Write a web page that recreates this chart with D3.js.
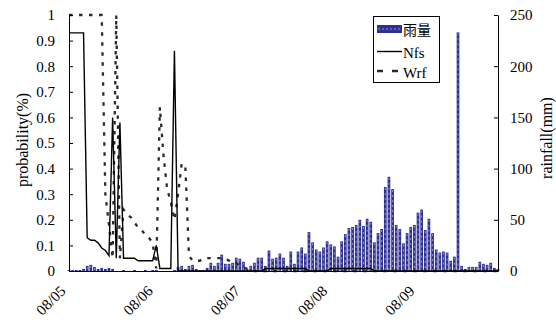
<!DOCTYPE html>
<html><head><meta charset="utf-8">
<script src="https://cdn.jsdelivr.net/npm/d3@7"></script>
<style>body{margin:0;background:#fff}</style>
</head><body><svg id="c" width="556" height="325"></svg>
<script>
// hourly index 0..118 starting 08/05 00:00
const hours = d3.range(119);
const dateLabels = ["08/05", "08/06", "08/07", "08/08", "08/09"];
const dateTickIdx = [0, 24, 48, 72, 96];
const probTicks = [0, 0.1, 0.2, 0.3, 0.4, 0.5, 0.6, 0.7, 0.8, 0.9, 1];
const rainTicks = [0, 50, 100, 150, 200, 250];

const rainfall = [
  1,1,1,1,2,5,6,4,2,3,2,3,2,
  0,0,1,0,0,1,0,0,1,0,1,1,0,0,0,0,
  1,4,5,2,5,
  6,2,1,1,3,8,5,8,16,7,7,8,13,12,9,2,5,8,13,13,5,20,12,13,17,13,5,19,7,19,23,17,38,28,21,19,23,29,26,
  24,14,29,36,42,43,45,50,44,51,48,28,37,41,82,92,80,45,41,27,37,43,45,57,60,40,51,37,21,18,19,18,10,14,
  233,
  5,2,4,4,4,9,7,6,8,3,2
];
const nfs = [
  0.93,0.93,0.93,0.93,0.93,
  0.13,0.12,0.12,0.11,0.09,0.08,0.06,0.6,0.05,0.58,0.05,0.05,0.05,0.05,0.04,0.04,0.04,0.04,0.04,0.1,0.01,0.01,0.01,0.01,0.86,0,
  0,0,0,0,0,0,0,0,0,0,0,0,0,0,0,0,0,0,0,0,0,0,0,
  0.01,0.01,0.01,0.01,0.01,0.01,0.01,0.01,0.01,0.01,0.01,0.01,
  0,0,0,0,0,0,
  0.01,0.01,0.01,0.01,0.01,0.01,0.01,0.01,0.01,0.01,0.01,0.01,
  0,0,0,0,0,0,0,0,0,0,0,0,0,0,0,0,0,0,0,0,0,0,0,0,0,0,0,0,0,0,0,0,0,0,0
];
const wrf = [
  1,1,1,1,1,1,1,1,1,1,
  0.3,0.18,0.05,1,0.05,0.24,0.22,0.21,0.19,0.17,0.16,0.14,0.13,0.11,0.01,0.64,0.45,0.32,0.27,0.2,0.3,0.42,0.41,0.06,0.04,0.04,0.04,
  0.05,0.05,0.05,0.05,0.05,0.05,0.05,
  0.04,0.03,0.03,0.02,0.01,0.01,0.01,
  0,0,0,0,0,0,0,0,0,0,0,0,0,0,0,0,0,0,0,0,0,0,0,0,0,0,0,0,0,0,0,0,0,0,
  0,0,0,0,0,0,0,0,0,0,0,0,0,0,0,0,0,0,0,0,0,0,0,0,0,0,0,0,0,0,0,0,0,0
];

const svg = d3.select("#c");
const L = 69, R = 498, T = 15, B = 271;
const x = d3.scaleLinear().domain([0, 118]).range([L, R]);
const yP = d3.scaleLinear().domain([0, 1]).range([B, T]);
const yR = d3.scaleLinear().domain([0, 250]).range([B, T]);
const serif = "'Liberation Serif','Times New Roman',serif";

// bars
const bw = 2.7;
const bars = svg.append("g");
bars.selectAll("rect").data(hours).join("rect")
  .attr("x", i => x(i) - bw / 2).attr("width", bw)
  .attr("y", i => yR(rainfall[i])).attr("height", i => B - yR(rainfall[i]))
  .attr("fill", "#2f3190");
bars.selectAll("line").data(hours.filter(i => rainfall[i] > 3)).join("line")
  .attr("x1", i => x(i)).attr("x2", i => x(i))
  .attr("y1", i => yR(rainfall[i]) + 1).attr("y2", B)
  .attr("stroke", "#a9a9de").attr("stroke-width", 0.8).attr("stroke-dasharray", "2,3");

// lines
const line = d3.line().x((d, i) => x(i)).y(d => yP(d));
svg.append("path").datum(wrf).attr("d", line)
  .attr("fill", "none").attr("stroke", "#2a2a2a").attr("stroke-width", 2.3)
  .attr("stroke-dasharray", "3.5,6.5");
svg.append("path").datum(nfs).attr("d", line)
  .attr("fill", "none").attr("stroke", "#000").attr("stroke-width", 1.4);

// axes
const axL = svg.append("g").attr("transform", `translate(${L},0)`)
  .call(d3.axisLeft(yP).tickValues(probTicks).tickFormat(d => String(+d.toFixed(1)))
    .tickSizeInner(-4).tickSizeOuter(0).tickPadding(14));
const axR = svg.append("g").attr("transform", `translate(${R},0)`)
  .call(d3.axisRight(yR).tickValues(rainTicks)
    .tickSizeInner(-4).tickSizeOuter(0).tickPadding(12));
const axB = svg.append("g").attr("transform", `translate(0,${B})`)
  .call(d3.axisBottom(x).tickValues(dateTickIdx).tickFormat((d, i) => dateLabels[i])
    .tickSizeInner(0).tickSizeOuter(0));
axB.selectAll("text").attr("x", 0).attr("y", 0).attr("dy", 0)
  .attr("text-anchor", "end").attr("transform", "translate(-3,21) rotate(-45)");
[axL, axR, axB].forEach(a => {
  a.selectAll("path,line").attr("stroke", "#000");
  a.selectAll("text").attr("font-family", serif).attr("font-size", 15).attr("fill", "#000");
});

// titles
svg.append("text").attr("transform", "translate(22,140) rotate(-90)")
  .attr("text-anchor", "middle").attr("dominant-baseline", "central")
  .attr("font-family", serif).attr("font-size", 16).text("probability(%)");
svg.append("text").attr("transform", "translate(546,138) rotate(-90)")
  .attr("text-anchor", "middle").attr("dominant-baseline", "central")
  .attr("font-family", serif).attr("font-size", 16).text("rainfall(mm)");

// legend
const lg = svg.append("g");
lg.append("rect").attr("x", 373.5).attr("y", 16.5).attr("width", 66).attr("height", 66)
  .attr("fill", "#fff").attr("stroke", "#000");
lg.append("rect").attr("x", 377).attr("y", 25).attr("width", 25).attr("height", 8).attr("fill", "#2f3190");
lg.append("line").attr("x1", 378).attr("x2", 401).attr("y1", 29).attr("y2", 29)
  .attr("stroke", "#a9a9de").attr("stroke-width", 0.8).attr("stroke-dasharray", "2,2");
lg.append("text").attr("x", 403).attr("y", 35).attr("font-family", "'Noto Sans CJK TC',serif")
  .attr("font-size", 14).text("雨量");
lg.append("line").attr("x1", 377).attr("x2", 402).attr("y1", 51.5).attr("y2", 51.5)
  .attr("stroke", "#000").attr("stroke-width", 1.4);
lg.append("text").attr("x", 403).attr("y", 57.5).attr("font-family", serif).attr("font-size", 15).text("Nfs");
lg.append("line").attr("x1", 377).attr("x2", 402).attr("y1", 71).attr("y2", 71)
  .attr("stroke", "#2a2a2a").attr("stroke-width", 2.6).attr("stroke-dasharray", "6,9");
lg.append("text").attr("x", 403).attr("y", 77.5).attr("font-family", serif).attr("font-size", 15).text("Wrf");
</script></body></html>
